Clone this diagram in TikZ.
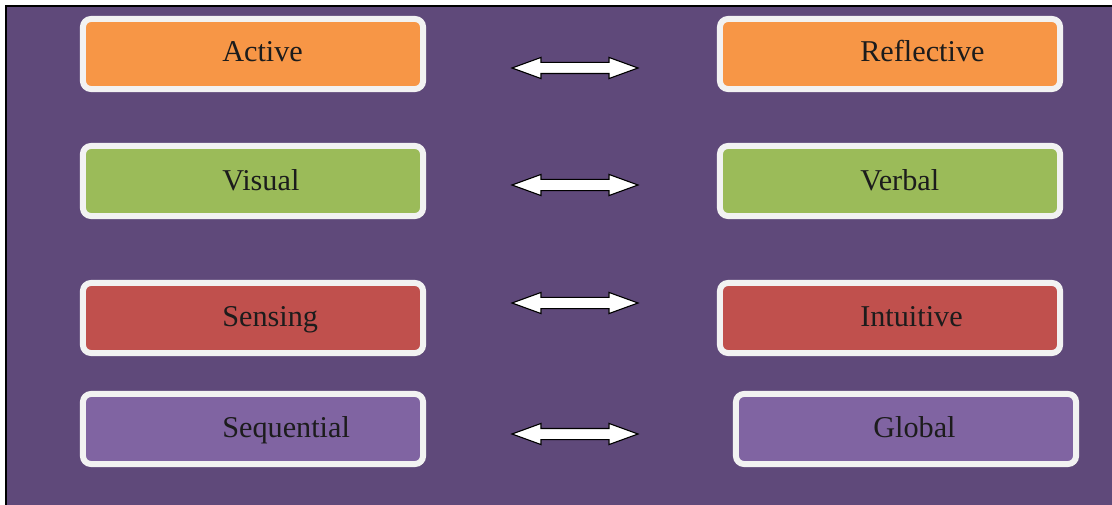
\documentclass[tikz,border=0pt]{standalone}
\usepackage{fontspec}
\setmainfont{Liberation Serif}
\usetikzlibrary{shapes.arrows,shadows}
\definecolor{bgpurple}{HTML}{5F497A}
\definecolor{edgewhite}{HTML}{F2F2F2}
\definecolor{orangebox}{HTML}{F79646}
\definecolor{greenbox}{HTML}{9BBB59}
\definecolor{redbox}{HTML}{C0504D}
\definecolor{purplebox}{HTML}{8064A2}
\definecolor{textdark}{HTML}{1C1C1C}
\begin{document}
\begin{tikzpicture}[x=0.025cm,y=-0.025cm,
	box/.style={rectangle,draw=edgewhite,line width=0.15cm,rounded corners=0.2cm,
		minimum width=8.5cm,minimum height=1.75cm,
		drop shadow={shadow xshift=0.05cm,shadow yshift=-0.06cm,opacity=0.45,fill=black}},
	lbl/.style={anchor=base west,inner sep=0pt,text=textdark,font=\fontsize{21.5}{24}\selectfont},
	dblarrow/.style={double arrow,draw=black,fill=white,line width=0.8pt,
		inner xsep=0pt,inner ysep=0.125cm,
		minimum width=0.5cm,minimum height=3.15cm,double arrow head extend=0.125cm,
		double arrow tip angle=40}]

	\useasboundingbox (0,0) rectangle (1112,505);
	\fill[white] (0,0) rectangle (1112,505);
	\fill[bgpurple] (6,6) rectangle (1112,505);
	\draw[line width=0.05cm] (6,505) -- (6,6) -- (1112,6);

	% left column
	\node[box,fill=orangebox] (active) at (253,54) {};
	\node[box,fill=greenbox] (visual) at (253,181) {};
	\node[box,fill=redbox] (sensing) at (253,318) {};
	\node[box,fill=purplebox] (sequential) at (253,429) {};

	% right column
	\node[box,fill=orangebox] (reflective) at (890,54) {};
	\node[box,fill=greenbox] (verbal) at (890,181) {};
	\node[box,fill=redbox] (intuitive) at (890,318) {};
	\node[box,fill=purplebox] (global) at (906,429) {};

	% labels
	\node[lbl] (activeT) at (222,62) {Active};
	\node[lbl] (visualT) at (222,191) {Visual};
	\node[lbl] (sensingT) at (222,326) {Sensing};
	\node[lbl] (sequentialT) at (222,437) {Sequential};
	\node[lbl] (reflectiveT) at (860,62) {Reflective};
	\node[lbl] (verbalT) at (860,191) {Verbal};
	\node[lbl] (intuitiveT) at (860,326) {Intuitive};
	\node[lbl] (globalT) at (873,437) {Global};

	% arrows
	\node[dblarrow] (ar1) at (575,68) {};
	\node[dblarrow] (ar2) at (575,185) {};
	\node[dblarrow] (ar3) at (575,303) {};
	\node[dblarrow] (ar4) at (575,434) {};

\end{tikzpicture}
\end{document}
